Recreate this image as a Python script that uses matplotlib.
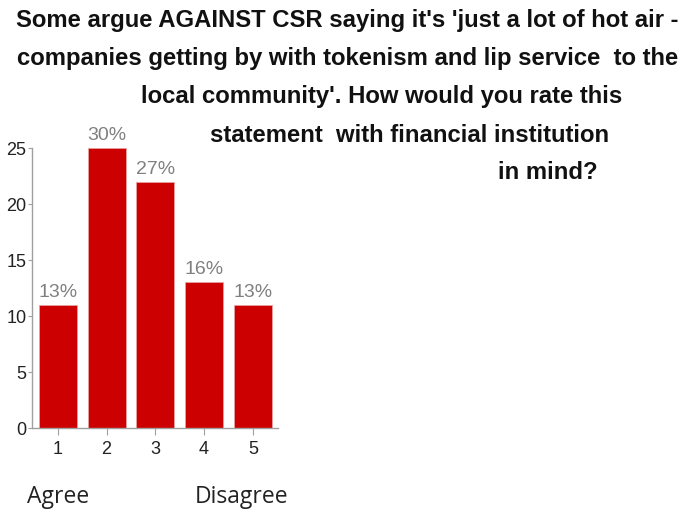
import matplotlib.pyplot as plt

categories = [1, 2, 3, 4, 5]
counts = [11, 25, 22, 13, 11]
pct_labels = ['13%', '30%', '27%', '16%', '13%']
y_ticks = [0, 5, 10, 15, 20, 25]

title_lines = [
    "Some argue AGAINST CSR saying it's 'just a lot of hot air -",
    "companies getting by with tokenism and lip service  to the",
    "local community'. How would you rate this",
    "statement  with financial institution",
    "in mind?",
]

fig = plt.figure(figsize=(6.96, 5.16), dpi=100)
ax = fig.add_axes([0.046, 0.1705, 0.353, 0.5425])

ax.bar(categories, counts, width=0.78, color='#cc0000', edgecolor='#e8a0a0',
       linewidth=0.6, clip_on=False, zorder=2)
for x, v, lab in zip(categories, counts, pct_labels):
    ax.annotate(lab, (x, v), xytext=(0, 3), textcoords='offset points',
                ha='center', va='bottom', fontsize=14, color='#808080',
                family='Liberation Sans', annotation_clip=False)

ax.set_xlim(0.47, 5.51)
ax.set_ylim(0, 25)
ax.set_xticks(categories)
ax.set_yticks(y_ticks)
for s in ['top', 'right']:
    ax.spines[s].set_visible(False)
for s in ['left', 'bottom']:
    ax.spines[s].set_color('#a0a0a0')
    ax.spines[s].set_linewidth(1)
ax.tick_params(axis='both', colors='#a0a0a0', labelcolor='#222222', labelsize=13)
ax.tick_params(axis='x', length=5, pad=4)
ax.tick_params(axis='y', length=3, pad=1)
for t in ax.get_xticklabels() + ax.get_yticklabels():
    t.set_family('Liberation Sans')

# title, laid out line by line like the source
title_pos = [(347, 20), (348, 58), (382, 97), (410, 136), (548, 173)]
for line, (px, py) in zip(title_lines, title_pos):
    fig.text(px / 696, 1 - py / 516, line, ha='center', va='center',
             fontsize=17.2, fontweight='bold', family='Liberation Sans',
             color='#111111')

fig.text(58 / 696, 1 - 497 / 516, 'Agree', ha='center', va='center',
         fontsize=16.5, family='Open Sans', color='#222222')
fig.text(242 / 696, 1 - 497 / 516, 'Disagree', ha='center', va='center',
         fontsize=16.5, family='Open Sans', color='#222222')

fig.savefig('out.png', dpi=100)
